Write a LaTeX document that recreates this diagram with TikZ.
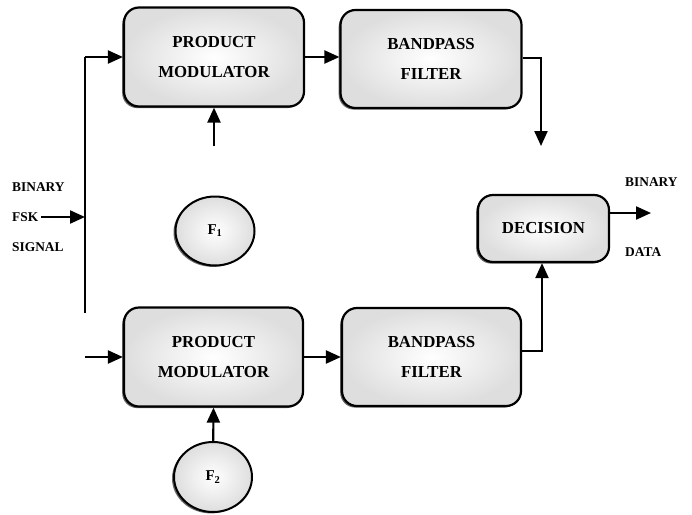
\documentclass[tikz,border=0pt]{standalone}
\usepackage{fontspec}
\setmainfont{Liberation Serif}
\usetikzlibrary{arrows.meta,shapes.geometric,shadows}
\begin{document}
\begin{tikzpicture}[x=1pt,y=-1pt,
  blk/.style={draw=black,line width=2.2pt,rounded corners=15pt,
    inner color=white,outer color=black!13,
    drop shadow={shadow xshift=-1.8pt,shadow yshift=-1.6pt,fill=black!60,opacity=1},
    align=center,font=\fontsize{16.8}{30}\selectfont\bfseries},
  osc/.style={ellipse,draw=black,line width=2pt,
    inner color=white,outer color=black!13,
    drop shadow={shadow xshift=-2pt,shadow yshift=-1.4pt,fill=black!60,opacity=1},
    font=\fontsize{15}{17}\selectfont\bfseries},
  lbl/.style={font=\fontsize{13.4}{15}\selectfont\bfseries,inner sep=0pt},
  arr/.style={line width=2.2pt,-{Triangle[length=15pt,width=13pt]}},
  ln/.style={line width=2.2pt}]
\useasboundingbox (0,0) rectangle (692,514);
% blocks
\node[blk,minimum width=180pt,minimum height=99pt] (pm1) at (214,57) {PRODUCT\\MODULATOR};
\node[blk,minimum width=181pt,minimum height=98pt] (bpf1) at (431,59) {BANDPASS\\FILTER};
\node[blk,minimum width=131pt,minimum height=67pt] (dec) at (543.5,228.5) {DECISION};
\node[blk,minimum width=179pt,minimum height=99pt] (pm2) at (213.5,357) {PRODUCT\\MODULATOR};
\node[blk,minimum width=179pt,minimum height=98pt] (bpf2) at (431.5,357) {BANDPASS\\FILTER};
\node[osc,minimum width=79pt,minimum height=69pt,inner sep=0pt] (f1) at (215,231) {F\textsubscript{1}};
\node[osc,minimum width=78pt,minimum height=70pt,inner sep=0pt] (f2) at (213,477) {F\textsubscript{2}};
% labels
\node[lbl,anchor=west] (bin) at (12,187) {BINARY};
\node[lbl,anchor=west] (fsk) at (12,217) {FSK};
\node[lbl,anchor=west] (sig) at (12,247) {SIGNAL};
\node[lbl,anchor=west] (bout) at (625,182) {BINARY};
\node[lbl,anchor=west] (dout) at (625,252) {DATA};
% coordinates
\coordinate (jt) at (85,57);
\coordinate (jb) at (85,313);
\coordinate (jin) at (85,217);
\coordinate (l2) at (85,357);
\coordinate (f1top) at (214,146);
\coordinate (r1) at (541,58);
\coordinate (r1e) at (541,146);
\coordinate (r2) at (542,351);
\coordinate (dout0) at (609,213);
\coordinate (dout1) at (651,213);
% connectors
\draw[arr] (fsk.east) ++(3pt,0) -- (jin);
\draw[ln] (jb) -- (jt);
\draw[arr] (jt) -- (pm1.west);
\draw[arr] (l2) -- (pm2.west);
\draw[arr] (f1top) -- (pm1.south);
\draw[arr] (f2) -- (pm2.south);
\draw[arr] (pm1.east) -- (bpf1.west |- pm1.east);
\draw[arr] (pm2.east) -- (bpf2.west);
\draw[arr] (bpf1.east |- r1) -- (r1) -- (r1e);
\draw[arr] (bpf2.east |- r2) -- (r2) -- (dec.south -| r2);
\draw[arr] (dout0) -- (dout1);
\end{tikzpicture}
\end{document}
